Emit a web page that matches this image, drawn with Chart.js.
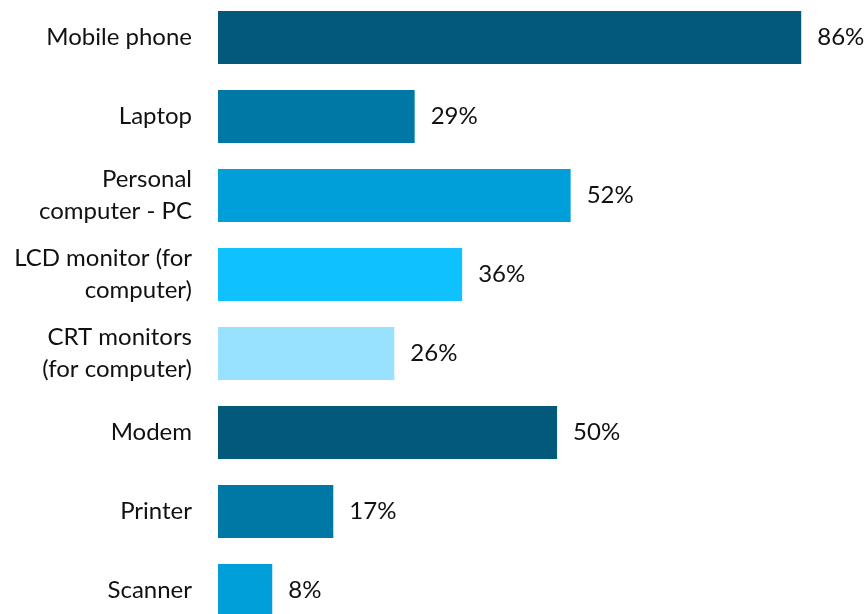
<!DOCTYPE html>
<html lang="en">
<head>
    <meta charset="UTF-8">
    <title>Devices</title>
    <script src="https://cdn.jsdelivr.net/npm/chart.js"></script>
    <style>
        html, body { margin: 0; padding: 0; background: #fff; overflow: hidden; }
        .chart-box { position: absolute; left: 0; top: -2px; width: 867px; height: 632px; }
    </style>
</head>
<body>
    <div class="chart-box">
        <canvas id="deviceChart"></canvas>
    </div>

    <script>
        const categories = [
            'Mobile phone',
            'Laptop',
            ['Personal', 'computer - PC'],
            ['LCD monitor (for', 'computer)'],
            ['CRT monitors', '(for computer)'],
            'Modem',
            'Printer',
            'Scanner'
        ];
        const shares = [86, 29, 52, 36, 26, 50, 17, 8];
        const barColors = ['#02597a', '#0078a6', '#009fd9', '#10c1ff', '#99e2ff', '#02597a', '#0078a6', '#009fd9'];

        const fontFamily = 'Lato, "Open Sans", sans-serif';

        // draws the "86%" style labels next to each bar end
        const valueLabels = {
            id: 'valueLabels',
            afterDatasetsDraw(chart) {
                const ctx = chart.ctx;
                const meta = chart.getDatasetMeta(0);
                ctx.save();
                ctx.font = '24px ' + fontFamily;
                ctx.fillStyle = '#111';
                ctx.textAlign = 'left';
                ctx.textBaseline = 'middle';
                meta.data.forEach((bar, i) => {
                    ctx.fillText(shares[i] + '%', bar.x + 16, bar.y);
                });
                ctx.restore();
            }
        };

        new Chart(document.getElementById('deviceChart').getContext('2d'), {
            type: 'bar',
            data: {
                labels: categories,
                datasets: [{
                    data: shares,
                    backgroundColor: barColors,
                    barPercentage: 0.67,
                    categoryPercentage: 1
                }]
            },
            options: {
                indexAxis: 'y',
                responsive: true,
                maintainAspectRatio: false,
                animation: false,
                layout: { padding: 0 },
                plugins: {
                    legend: { display: false },
                    tooltip: { enabled: false }
                },
                scales: {
                    x: {
                        display: false,
                        min: 0,
                        max: 95.7
                    },
                    y: {
                        grid: { display: false, drawTicks: false },
                        border: { display: false },
                        ticks: {
                            padding: 26,
                            color: '#111',
                            font: { family: fontFamily, size: 24, lineHeight: 1.33 }
                        },
                        afterFit(scale) {
                            scale.width = 218;
                            scale.paddingTop = 0;
                            scale.paddingBottom = 0;
                        }
                    }
                }
            },
            plugins: [valueLabels]
        });
    </script>
</body>
</html>
